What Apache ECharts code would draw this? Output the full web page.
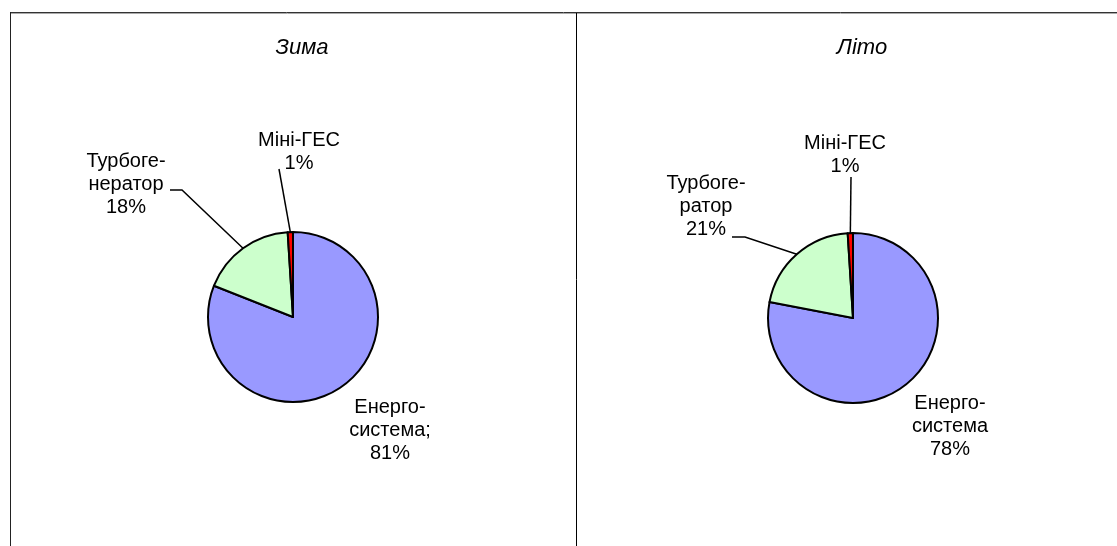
<!DOCTYPE html>
<html>
<head>
<meta charset="utf-8">
<script src="https://cdn.jsdelivr.net/npm/echarts@6/dist/echarts.min.js"></script>
<style>
html, body { margin: 0; padding: 0; background: #fff; }
#chart { width: 1117px; height: 546px; }
</style>
</head>
<body>
<div id="chart"></div>
<script>
// дані
var seasons = ['Зима', 'Літо'];
var sourceNames = ['Енергосистема', 'Турбогенератор', 'Міні-ГЕС'];
var winterLabels = ['Енерго-\nсистема;', 'Турбоге-\nнератор', 'Міні-ГЕС'];
var summerLabels = ['Енерго-\nсистема', 'Турбоге-\nратор', 'Міні-ГЕС'];
var winterValues = [81, 18, 1];
var summerValues = [78, 21, 1];
var sliceColors = ['#9999FF', '#CCFFCC', '#FF0000'];

var chart = echarts.init(document.getElementById('chart'), null, { renderer: 'canvas' });
var font = "'Liberation Sans', Arial, sans-serif";

// розташування (центр пирога, підписи відносно центру)
var centers = [[293, 317], [853, 318]];
var radius = 85;
var labelBoxes = [
	[[97, 79], [-167, -167], [6, -188]],
	[[97, 74], [-147, -146], [-8, -186]]
];
var guides = [
	[null, [[-111, -127], [-123, -127]], [[-14, -148]]],
	[null, [[-108, -81], [-121, -81]], [[-2, -141]]]
];

function makeData(values, labels) {
	return values.map(function (v, i) {
		return {
			name: sourceNames[i],
			value: v,
			labelText: labels[i],
			itemStyle: { color: sliceColors[i] },
			labelLine: { show: i !== 0 }
		};
	});
}

function makeLayout(k) {
	var c = centers[k];
	return function (params) {
		var i = params.dataIndex;
		var b = labelBoxes[k][i];
		var out = {
			x: c[0] + b[0],
			y: c[1] + b[1],
			align: 'center',
			verticalAlign: 'top',
			hideOverlap: false
		};
		var g = guides[k][i];
		if (g && params.labelLinePoints) {
			var pts = [params.labelLinePoints[0]];
			g.forEach(function (p) {
				pts.push([c[0] + p[0], c[1] + p[1]]);
			});
			out.labelLinePoints = pts;
		}
		return out;
	};
}

function pieSeries(k, values, labels) {
	var data = makeData(values, labels);
	return {
		type: 'pie',
		name: seasons[k],
		center: centers[k],
		radius: [0, radius],
		startAngle: 90,
		clockwise: true,
		avoidLabelOverlap: false,
		silent: true,
		itemStyle: { borderColor: '#000', borderWidth: 2 },
		label: {
			show: true,
			position: 'outside',
			color: '#000',
			fontFamily: font,
			fontSize: 20,
			lineHeight: 23,
			align: 'center',
			formatter: function (p) {
				return data[p.dataIndex].labelText + '\n' + Math.round(p.percent) + '%';
			}
		},
		labelLine: {
			show: true,
			length: 20,
			length2: 10,
			lineStyle: { color: '#000', width: 1.5 }
		},
		labelLayout: makeLayout(k),
		emphasis: { disabled: true },
		data: data
	};
}

var titleStyle = { fontFamily: font, fontSize: 22, fontStyle: 'italic', fontWeight: 'normal', color: '#000' };

var option = {
	backgroundColor: '#fff',
	animation: false,
	title: [{
		text: seasons[0],
		left: 297,
		top: 32,
		textAlign: 'center',
		textStyle: titleStyle
	}, {
		text: seasons[1],
		left: 857,
		top: 32,
		textAlign: 'center',
		textStyle: titleStyle
	}],
	graphic: [
		{ type: 'line', shape: { x1: 10, y1: 12.5, x2: 1117, y2: 12.5 }, style: { stroke: '#333', lineWidth: 1 } },
		{ type: 'line', shape: { x1: 11, y1: 13.5, x2: 1117, y2: 13.5 }, style: { stroke: '#aaa', lineWidth: 1 } },
		{ type: 'line', shape: { x1: 10.5, y1: 12, x2: 10.5, y2: 546 }, style: { stroke: '#222', lineWidth: 1 } },
		{ type: 'line', shape: { x1: 576.5, y1: 13, x2: 576.5, y2: 546 }, style: { stroke: '#000', lineWidth: 1 } }
	],
	series: [
		pieSeries(0, winterValues, winterLabels),
		pieSeries(1, summerValues, summerLabels)
	]
};

chart.setOption(option);

window.onresize = function () {
	chart.resize();
};
</script>
</body>
</html>
